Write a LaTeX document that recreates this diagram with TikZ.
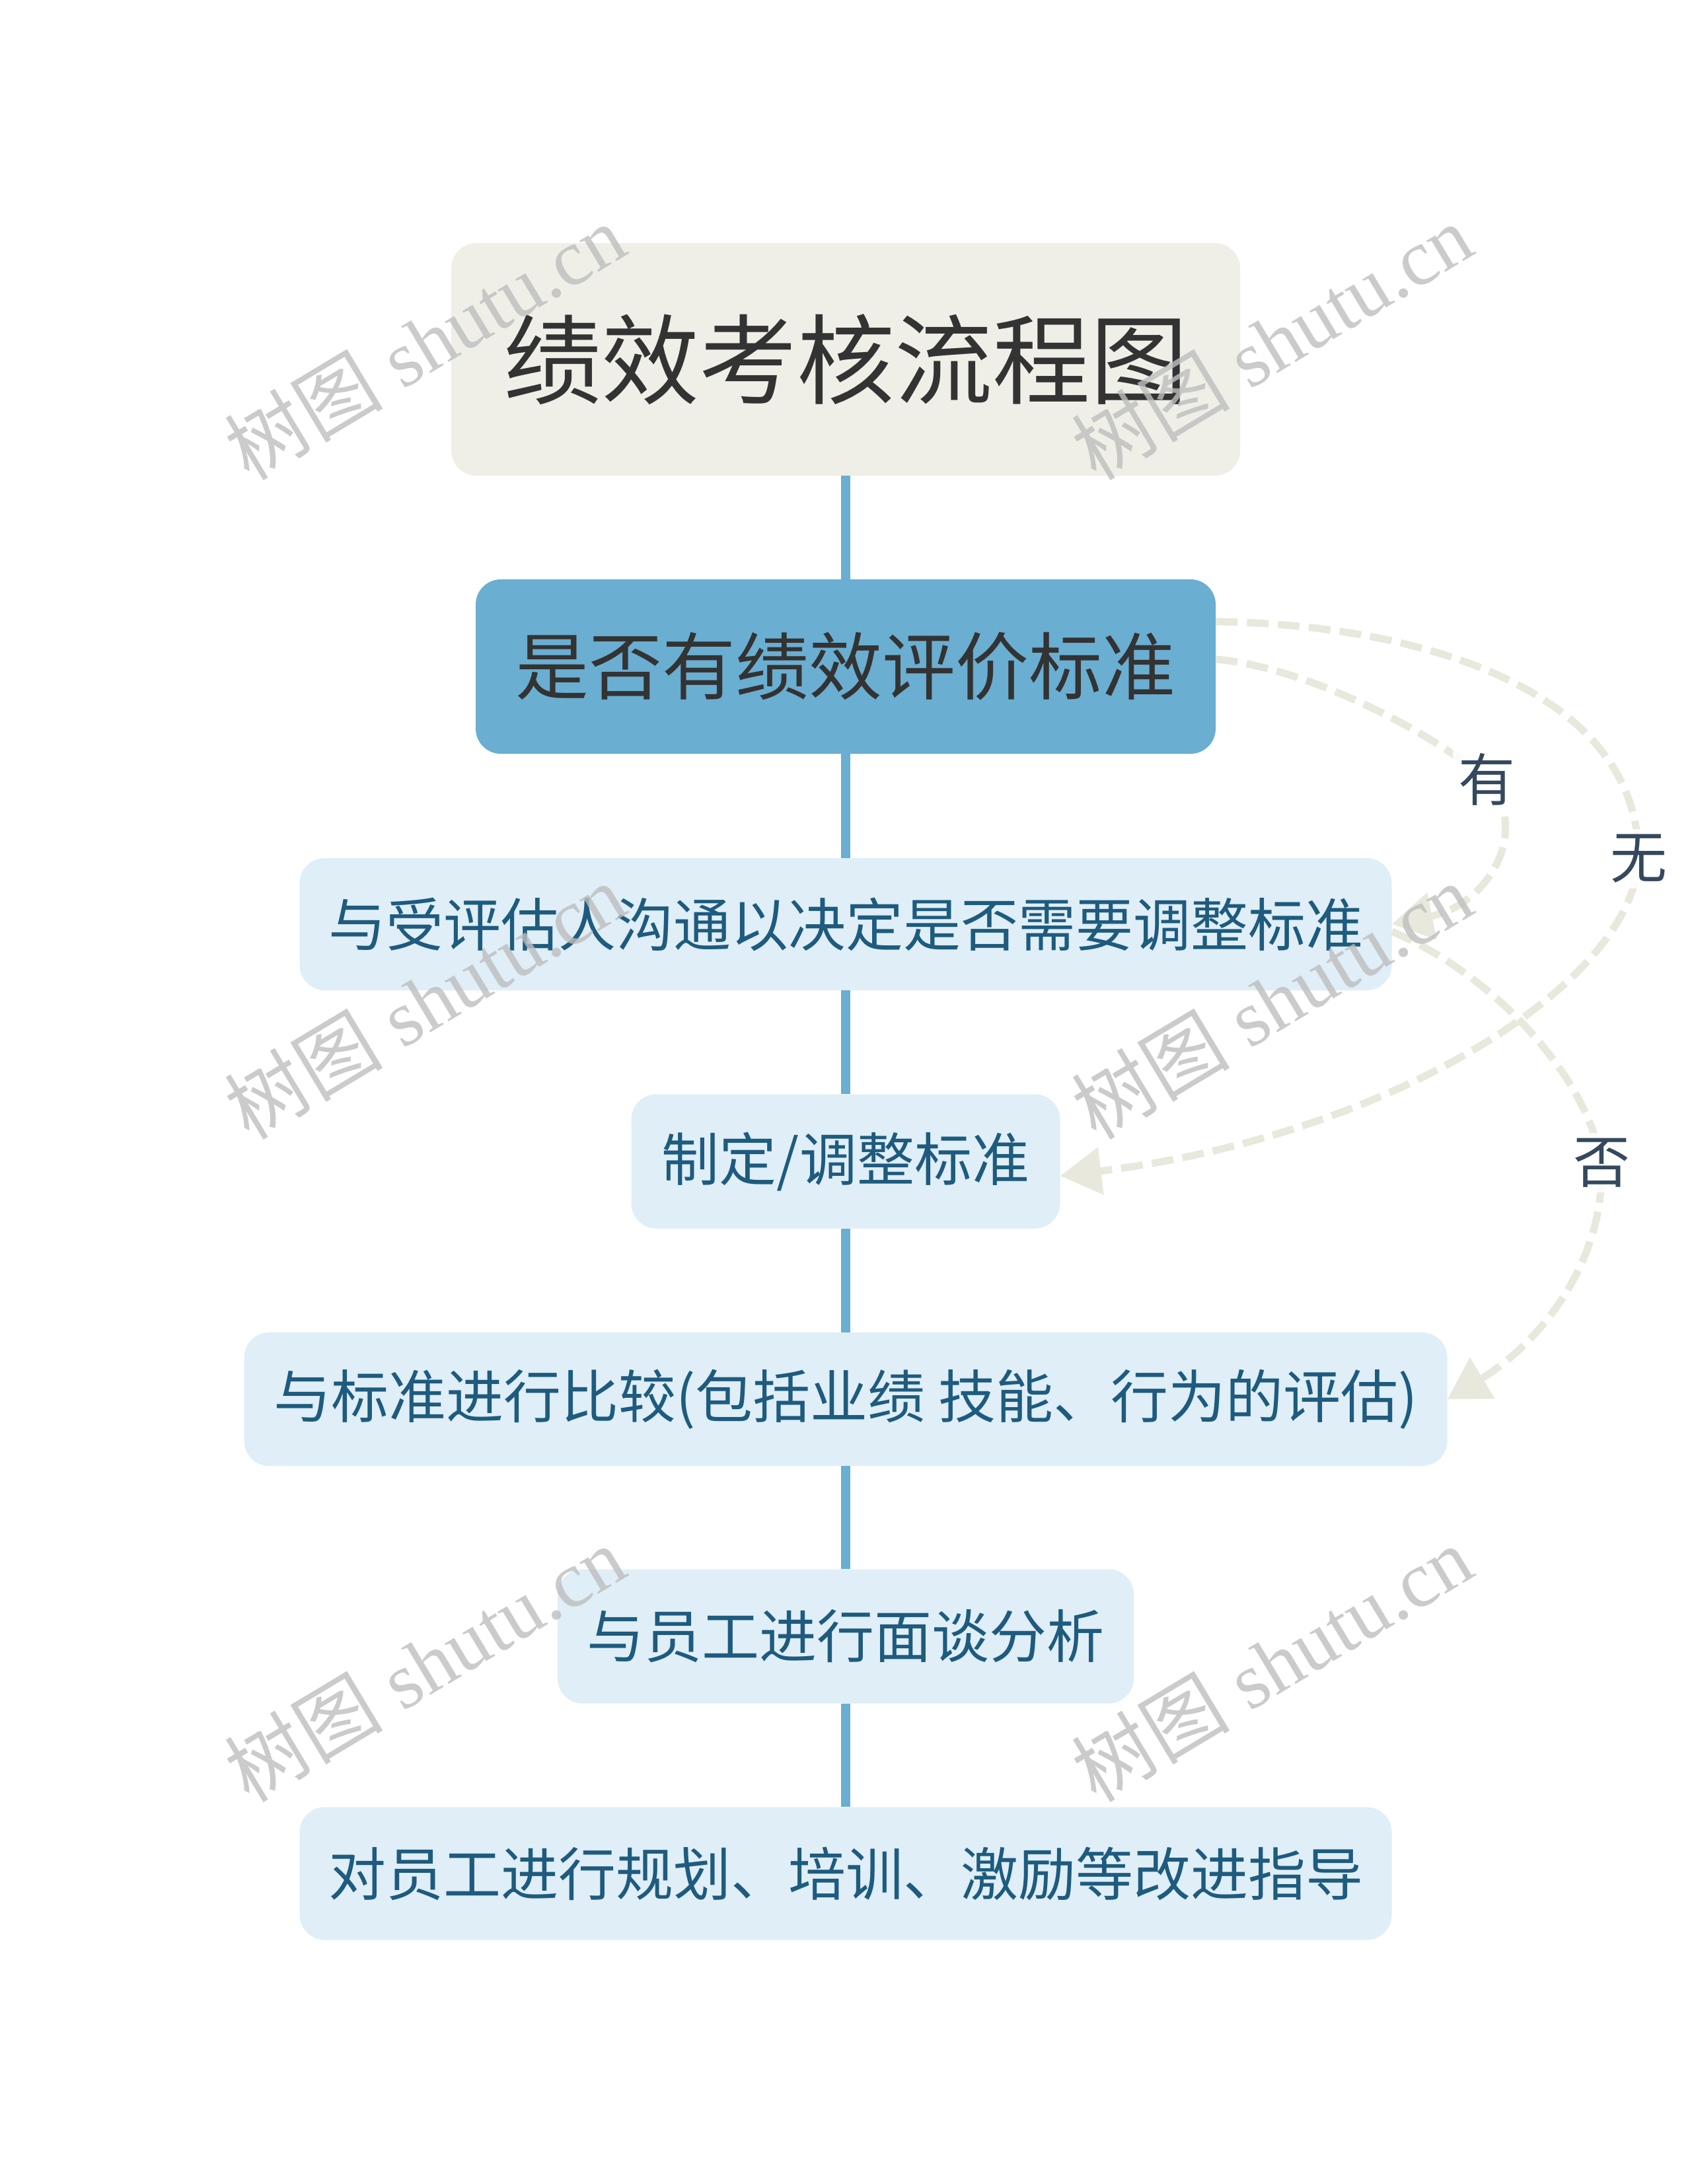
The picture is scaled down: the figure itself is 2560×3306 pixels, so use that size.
\documentclass[tikz,border=0pt]{standalone}
\usepackage{fontspec}
\newfontfamily\cjk{Noto Sans CJK SC}
\newfontfamily\wmserif{Liberation Serif}
\usetikzlibrary{arrows.meta,calc}
\definecolor{titlefill}{HTML}{EFEFE7}
\definecolor{keyfill}{HTML}{6AAED2}
\definecolor{boxfill}{HTML}{DFEEF7}
\definecolor{boxtext}{HTML}{1E5B7E}
\definecolor{darktext}{HTML}{333333}
\definecolor{labtext}{HTML}{34495E}
\definecolor{vline}{HTML}{6AAED2}
\definecolor{dashcol}{HTML}{E8E8DC}
\definecolor{wmgray}{HTML}{BEBEBE}
\begin{document}
\begin{tikzpicture}[x=1pt,y=-1pt,
  basebox/.style={rounded corners=38pt, inner sep=0pt, align=center},
  titlebox/.style={basebox, fill=titlefill, text=darktext, font=\cjk\fontsize{148}{160}\selectfont},
  keybox/.style={basebox, fill=keyfill, text=darktext, font=\cjk\fontsize{111}{120}\selectfont},
  stepbox/.style={basebox, fill=boxfill, text=boxtext, font=\cjk\fontsize{87}{100}\selectfont},
  vconn/.style={draw=vline, line width=14pt},
  dashconn/.style={draw=dashcol, line width=11pt, dash pattern=on 33pt off 14pt, -{Triangle[length=62pt,width=70pt]}},
  lab/.style={font=\cjk\fontsize{86}{100}\selectfont, text=labtext, fill=white, fill opacity=0.85, text opacity=1, inner sep=8pt},
  wm/.style={rotate=31, font=\wmserif\fontsize{120}{120}\selectfont, text=wmgray, text opacity=0.8, inner sep=0pt}
]
\useasboundingbox (0,0) rectangle (2560,3306);
\fill[white] (0,0) rectangle (2560,3306);

% nodes
\node[titlebox, minimum width=1194pt, minimum height=352pt] (t) at (1280,544) {绩效考核流程图};
\node[keybox, minimum width=1120pt, minimum height=264pt] (b2) at (1280,1009) {是否有绩效评价标准};
\node[stepbox, minimum width=1653pt, minimum height=200pt] (b3) at (1280,1399) {与受评估人沟通以决定是否需要调整标准};
\node[stepbox, minimum width=649pt, minimum height=203pt] (b4) at (1280,1758) {制定/调整标准};
\node[stepbox, minimum width=1821pt, minimum height=202pt] (b5) at (1280,2118) {与标准进行比较(包括业绩 技能、行为的评估)};
\node[stepbox, minimum width=872pt, minimum height=203pt] (b6) at (1280,2477) {与员工进行面谈分析};
\node[stepbox, minimum width=1653pt, minimum height=201pt] (b7) at (1280,2836) {对员工进行规划、培训、激励等改进指导};

% vertical connectors
\draw[vconn] (t.south) -- (b2.north);
\draw[vconn] (b2.south) -- (b3.north);
\draw[vconn] (b3.south) -- (b4.north);
\draw[vconn] (b4.south) -- (b5.north);
\draw[vconn] (b5.south) -- (b6.north);
\draw[vconn] (b6.south) -- (b7.north);

% label positions
\coordinate (cyou) at (2250,1180);
\coordinate (cwu) at (2480,1300);
\coordinate (cfou) at (2424,1760);

% dashed decision connectors
\draw[dashconn] ([yshift=11pt]b2.east) .. controls (1980,1010) and (2170,1110) .. (cyou)
   .. controls (2320,1260) and (2250,1370) .. (b3.east);
\draw[dashconn] ([yshift=68pt]b2.east) .. controls (2150,945) and (2482,1045) .. (cwu)
   .. controls (2472,1490) and (2100,1720) .. ([yshift=-22pt]b4.east);
\draw[dashconn] ([yshift=-11pt]b3.east) .. controls (2250,1470) and (2400,1620) .. (cfou)
   .. controls (2430,1920) and (2320,2040) .. (b5.east);

% labels
\node[lab] (lyou) at (cyou) {有};
\node[lab] (lwu) at (cwu) {无};
\node[lab] (lfou) at (cfou) {否};

% watermarks
\node[wm] (w1) at (643,517) {{\cjk 树图} shutu.cn};
\node[wm] (w2) at (1925,517) {{\cjk 树图} shutu.cn};
\node[wm] (w3) at (643,1515) {{\cjk 树图} shutu.cn};
\node[wm] (w4) at (1925,1515) {{\cjk 树图} shutu.cn};
\node[wm] (w5) at (643,2518) {{\cjk 树图} shutu.cn};
\node[wm] (w6) at (1925,2518) {{\cjk 树图} shutu.cn};
\end{tikzpicture}
\end{document}
